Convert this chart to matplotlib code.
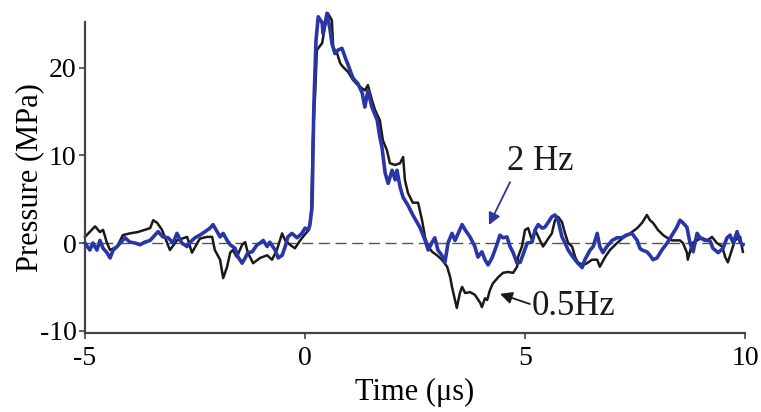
import matplotlib
matplotlib.use("Agg")
import matplotlib.pyplot as plt

plt.rcParams['font.family'] = ['Liberation Serif', 'DejaVu Serif']
plt.rcParams['axes.unicode_minus'] = False

# time (us) / pressure (MPa)
t_05 = [-5.00, -4.77, -4.66, -4.59, -4.50, -4.43, -4.27, -4.14, -3.98, -3.80,
        -3.64, -3.52, -3.45, -3.36, -3.25, -3.07, -2.91, -2.68, -2.57, -2.39,
        -2.23, -2.11, -2.05, -1.93, -1.86, -1.77, -1.70, -1.64, -1.55, -1.43,
        -1.36, -1.30, -1.18, -1.02, -0.86, -0.75, -0.64, -0.52, -0.45, -0.34,
        -0.23, -0.11, 0.00, 0.09, 0.14, 0.18, 0.23, 0.27, 0.39, 0.45,
        0.52, 0.61, 0.64, 0.73, 0.80, 0.86, 0.98, 1.09, 1.20, 1.36,
        1.43, 1.52, 1.59, 1.70, 1.77, 1.86, 1.93, 2.05, 2.16, 2.23,
        2.27, 2.34, 2.45, 2.57, 2.66, 2.73, 2.80, 2.89, 3.00, 3.11,
        3.23, 3.30, 3.34, 3.41, 3.45, 3.52, 3.57, 3.64, 3.75, 3.86,
        3.98, 4.02, 4.09, 4.14, 4.20, 4.27, 4.39, 4.50, 4.61, 4.73,
        4.82, 4.84, 4.93, 5.00, 5.07, 5.16, 5.23, 5.34, 5.41, 5.50,
        5.61, 5.68, 5.75, 5.84, 5.91, 5.98, 6.07, 6.14, 6.20, 6.32,
        6.41, 6.52, 6.64, 6.70, 6.82, 6.93, 7.09, 7.23, 7.39, 7.55,
        7.66, 7.77, 7.84, 7.91, 8.02, 8.14, 8.23, 8.34, 8.52, 8.59,
        8.68, 8.70, 8.80, 8.91, 9.02, 9.14, 9.25, 9.36, 9.48, 9.55,
        9.61, 9.70, 9.77, 9.89, 9.95]
p_05 = [0.7, 1.9, 1.25, 1.5, 0.0, -0.8, -0.4, 0.9, 1.1, 1.25,
        1.5, 1.7, 2.6, 2.3, 1.5, -0.8, 0.3, 0.7, -1.1, 0.5,
        0.7, 0.7, -0.8, -1.9, -4.0, -2.7, -1.1, -0.8, -1.6, -0.2,
        0.1, -1.1, -2.3, -1.7, -1.4, -1.9, -0.8, 1.1, 0.3, -0.2,
        -0.6, 0.3, 1.0, 1.5, 3.5, 12.0, 17.0, 22.0, 22.8, 24.6,
        26.2, 25.4, 22.3, 21.6, 20.5, 20.1, 19.5, 18.6, 18.0, 17.4,
        18.0, 16.3, 15.2, 14.0, 11.7, 10.6, 9.1, 8.9, 9.1, 9.8,
        7.2, 5.7, 4.6, 4.6, 2.6, 0.6, -0.4, -1.0, -1.4, -1.9,
        -2.7, -3.9, -5.0, -6.5, -7.4, -5.7, -5.0, -5.7, -5.6, -5.9,
        -6.8, -7.3, -6.3, -6.5, -5.4, -4.6, -3.9, -3.4, -3.3, -3.4,
        -2.7, -1.6, -0.4, 1.5, 1.7, 0.3, 1.5, 0.3, -0.4, 0.3,
        1.1, 2.6, 3.0, 2.4, 1.1, 0.0, -0.4, -1.6, -2.2, -2.5,
        -2.3, -1.9, -1.9, -2.7, -1.6, -0.8, 0.0, 0.6, 1.1, 1.7,
        2.3, 3.2, 2.6, 2.3, 1.5, 0.9, 0.6, 0.3, 0.3, 0.0,
        -1.1, -1.9, 0.0, 0.3, 0.6, 0.3, 0.7, 0.0, -0.4, -1.6,
        -2.2, -0.8, 0.3, 0.7, -1.0]

t_2 = [-5.00, -4.89, -4.82, -4.73, -4.66, -4.59, -4.50, -4.43, -4.36, -4.27,
       -4.20, -4.09, -3.98, -3.86, -3.75, -3.64, -3.52, -3.41, -3.34, -3.23,
       -3.11, -3.00, -2.91, -2.80, -2.68, -2.61, -2.50, -2.39, -2.27, -2.16,
       -2.09, -2.00, -1.93, -1.86, -1.77, -1.70, -1.59, -1.52, -1.43, -1.36,
       -1.30, -1.20, -1.09, -1.02, -0.95, -0.86, -0.80, -0.68, -0.61, -0.52,
       -0.45, -0.39, -0.30, -0.18, -0.07, 0.00, 0.07, 0.11, 0.16, 0.20,
       0.25, 0.30, 0.39, 0.41, 0.50, 0.57, 0.61, 0.68, 0.75, 0.84,
       0.91, 0.98, 1.09, 1.20, 1.30, 1.36, 1.43, 1.52, 1.64, 1.70,
       1.75, 1.82, 1.89, 1.98, 2.05, 2.09, 2.16, 2.23, 2.34, 2.45,
       2.61, 2.73, 2.80, 2.89, 2.95, 3.02, 3.11, 3.18, 3.25, 3.34,
       3.41, 3.48, 3.57, 3.64, 3.75, 3.86, 3.93, 4.02, 4.09, 4.16,
       4.25, 4.36, 4.43, 4.50, 4.59, 4.66, 4.73, 4.82, 4.89, 4.95,
       5.05, 5.16, 5.23, 5.30, 5.39, 5.45, 5.52, 5.61, 5.68, 5.75,
       5.84, 5.91, 5.98, 6.09, 6.20, 6.30, 6.36, 6.48, 6.55, 6.64,
       6.70, 6.77, 6.86, 6.98, 7.09, 7.20, 7.30, 7.43, 7.55, 7.61,
       7.66, 7.77, 7.84, 7.91, 8.00, 8.11, 8.23, 8.34, 8.45, 8.52,
       8.59, 8.68, 8.75, 8.82, 8.91, 8.98, 9.09, 9.20, 9.27, 9.39,
       9.50, 9.59, 9.66, 9.73, 9.82, 9.89, 9.95]
p_2 = [0.0, -0.8, 0.0, -0.8, 0.3, -0.6, -1.1, -1.7, -0.8, -0.4,
       0.0, 0.6, 0.1, 0.0, -0.2, 0.1, 0.3, 0.9, 1.3, 0.7,
       0.6, 0.0, 1.1, 0.0, -0.4, 0.1, 0.6, 0.9, 1.3, 1.7,
       2.1, 1.3, 0.7, 1.1, 0.3, -0.2, -0.6, -1.6, -2.3, -1.7,
       -1.1, -1.0, -0.2, 0.0, 0.3, -0.4, 0.1, -0.8, -1.7, -1.4,
       -0.4, 0.7, 1.1, 0.6, 1.1, 1.7, 1.5, 2.0, 4.1, 15.5,
       23.1, 25.8, 25.1, 23.9, 26.2, 24.3, 22.8, 21.6, 22.0, 22.2,
       21.2, 20.3, 18.8, 18.2, 17.1, 15.5, 17.4, 15.5, 14.0, 12.1,
       10.9, 8.0, 6.8, 8.3, 7.2, 8.3, 6.4, 5.2, 4.3, 3.2,
       1.8, 0.3, -0.8, 0.1, 0.6, -0.8, -1.4, -2.2, 0.0, 1.1,
       0.3, 1.1, 2.1, 1.5, 0.7, -0.4, -1.6, -1.0, -1.9, -2.5,
       -1.7, -0.2, 0.9, 0.6, 0.7, -0.4, -1.1, -2.3, -2.2, -1.4,
       0.0, 0.1, 1.5, 2.1, 1.7, 1.8, 2.3, 3.0, 3.2, 2.6,
       0.7, 0.0, -0.8, -1.6, -2.3, -2.8, -1.9, -0.8, -0.4, 1.1,
       -0.4, -1.1, -0.4, 0.3, 0.6, 0.6, 0.9, 1.1, 0.3, -0.6,
       -0.8, -1.0, -1.4, -1.9, -1.7, -0.8, 0.0, 0.9, 1.8, 2.6,
       2.3, 1.8, 0.0, -1.0, 1.1, 0.6, 0.3, 0.3, -0.6, -1.1,
       -0.6, 0.6, 0.9, 0.0, 1.3, 0.1, -0.2]

x_ticks = [-5, 0, 5, 10]
y_ticks = [-10, 0, 10, 20]

fig = plt.figure(figsize=(7.61, 4.12), dpi=100)
ax = fig.add_axes([0.1117, 0.1917, 0.8673, 0.7549])

ax.axhline(0, color='#555555', lw=1.0, dashes=(8, 4), zorder=1)
ax.plot(t_05, p_05, color='#1a1a1a', lw=1.8, zorder=2, clip_on=False)
ax.plot(t_2, p_2, color='#2b36a6', lw=2.6, zorder=3, clip_on=False)

ax.set_xlim(-5, 10)
ax.set_ylim(-10.26, 25.2)
ax.set_xticks(x_ticks)
ax.set_yticks(y_ticks)
ax.tick_params(direction='out', length=4, width=1.2, color='#444444',
               labelsize=20, pad=2)
ax.tick_params(axis='x', pad=5)
for side in ['top', 'right']:
    ax.spines[side].set_visible(False)
for side in ['left', 'bottom']:
    ax.spines[side].set_color('#444444')
    ax.spines[side].set_linewidth(1.6)

ax.set_xlabel('Time (\u03bcs)', fontsize=22, labelpad=5)
ax.set_ylabel('Pressure (MPa)', fontsize=22, labelpad=-3)

ax.text(5.34, 9.3, '2 Hz', fontsize=25, ha='center', va='center', color='#1a1a1a')
ax.annotate('', xy=(4.18, 2.05), xytext=(4.66, 6.95),
            arrowprops=dict(arrowstyle='-|>', color='#2b36a6', lw=1.3,
                            shrinkA=0, shrinkB=0, mutation_scale=18))
ax.text(5.16, -7.2, '0.5Hz', fontsize=25, ha='left', va='center', color='#1a1a1a')
ax.annotate('', xy=(4.43, -5.8), xytext=(5.11, -6.95),
            arrowprops=dict(arrowstyle='-|>', color='#1a1a1a', lw=1.3,
                            shrinkA=0, shrinkB=0, mutation_scale=18))

fig.savefig('out.png', dpi=100)
